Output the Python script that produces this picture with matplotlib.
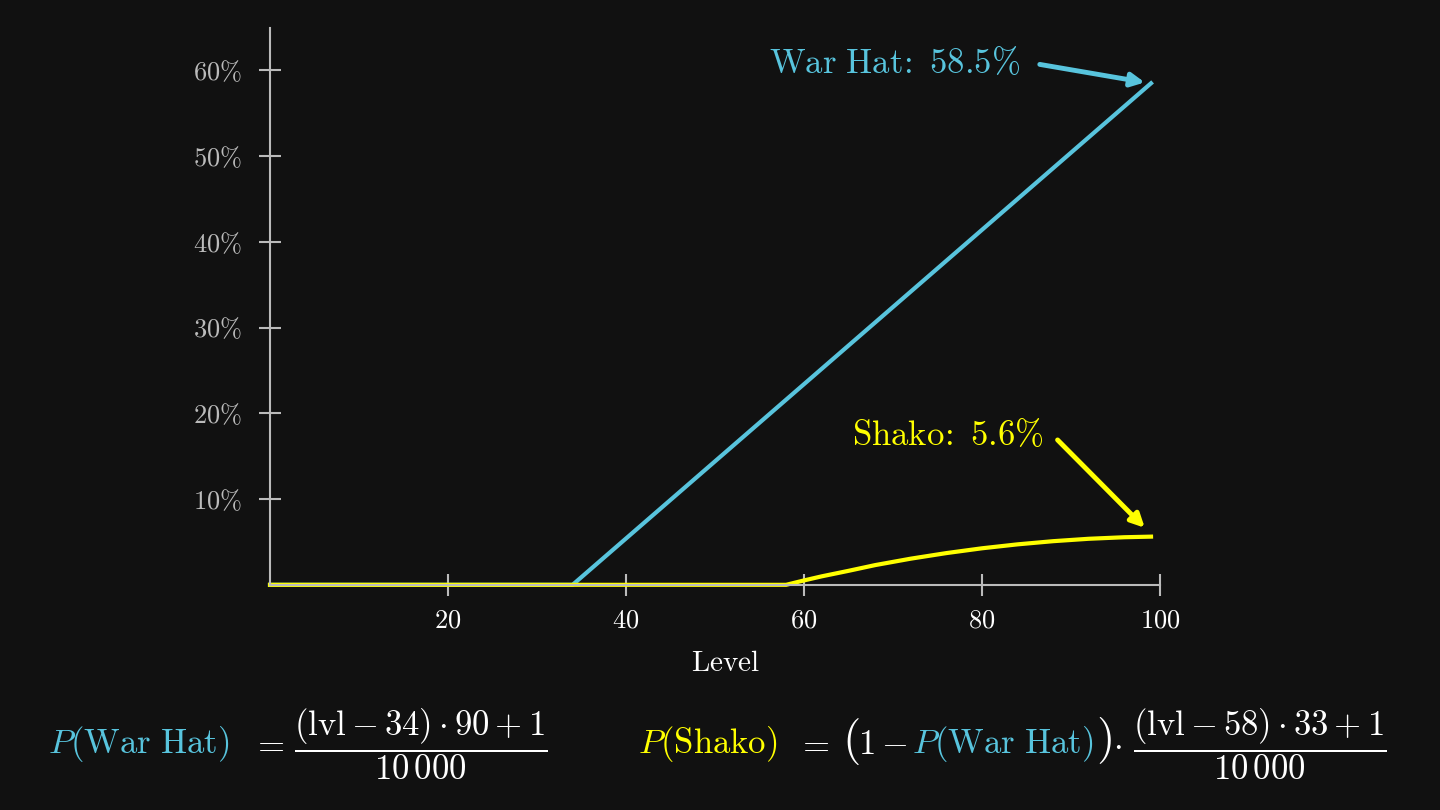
import matplotlib.pyplot as plt

plt.rcParams['mathtext.fontset'] = 'cm'

bg = '#111111'
blue = '#58c4dd'
yellow = '#ffff00'
axc = '#bbbbbb'

war_lvl = [0, 34, 99]
war_pct = [0, 0, 58.5]
shako_lvl = [0, 58, 60, 62, 65, 68, 72, 76, 80, 84, 88, 92, 96, 99]
shako_pct = [0, 0, 0.51, 0.99, 1.63, 2.30, 3.05, 3.70, 4.26, 4.72, 5.09, 5.37, 5.55, 5.62]
xticks = [20, 40, 60, 80, 100]
yticks = [10, 20, 30, 40, 50, 60]

fig = plt.figure(figsize=(14.4, 8.1), dpi=100, facecolor=bg)
ax = fig.add_axes([0.1875, 0.278, 0.618, 0.688])
ax.set_facecolor(bg)
ax.set_xlim(0, 100)
ax.set_ylim(0, 65)
for s in ['top', 'right']:
    ax.spines[s].set_visible(False)
for s in ['left', 'bottom']:
    ax.spines[s].set_color(axc)
    ax.spines[s].set_linewidth(1.5)
ax.set_xticks(xticks)
ax.set_xticklabels([r'$%d$' % t for t in xticks])
ax.set_yticks(yticks)
ax.set_yticklabels([r'$%d\%%$' % t for t in yticks])
ax.tick_params(direction='inout', length=16, width=1.5, color=axc, labelsize=19)
ax.tick_params(axis='x', colors=axc, labelcolor='white', pad=8)
ax.tick_params(axis='y', colors=axc, labelcolor=axc, pad=12)
ax.set_xlabel(r'$\mathrm{Level}$', color='white', fontsize=21, labelpad=12)
ax.xaxis.set_label_coords(0.512, -0.115)

ax.plot(war_lvl, war_pct, color=blue, lw=3, clip_on=False)
ax.plot(shako_lvl, shako_pct, color=yellow, lw=3, clip_on=False)

ax.text(84.3, 60.9, r'$\mathrm{War\ Hat\!:\ 58.5\%}$', color=blue, fontsize=25,
        ha='right', va='center')
ax.annotate('', xy=(98.3, 58.6), xytext=(86.5, 60.7),
            arrowprops=dict(arrowstyle='-|>', color=blue, lw=3.5, mutation_scale=20,
                            shrinkA=0, shrinkB=0))
ax.text(86.9, 17.5, r'$\mathrm{Shako\!:\ 5.6\%}$', color=yellow, fontsize=25,
        ha='right', va='center')
ax.annotate('', xy=(98.3, 6.65), xytext=(88.5, 16.9),
            arrowprops=dict(arrowstyle='-|>', color=yellow, lw=3.5, mutation_scale=20,
                            shrinkA=0, shrinkB=0))

fs = 25
fig.text(0.033, 0.082, r'$P\mathrm{(War\ Hat)}$', color=blue, fontsize=fs, va='center')
fig.text(0.174, 0.082, r'$=$', color='white', fontsize=fs, va='center')
fig.text(0.204, 0.082, r'$\dfrac{(\mathrm{lvl}-34)\cdot 90+1}{10\,000}$',
         color='white', fontsize=fs, va='center')
fig.text(0.443, 0.082, r'$P\mathrm{(Shako)}$', color=yellow, fontsize=fs, va='center')
fig.text(0.553, 0.082, r'$=$', color='white', fontsize=fs, va='center')
fig.text(0.585, 0.085, r'$\mathrm{(}$', color='white', fontsize=34, va='center')
fig.text(0.596, 0.082, r'$1-$', color='white', fontsize=fs, va='center')
fig.text(0.633, 0.082, r'$P\mathrm{(War\ Hat)}$', color=blue, fontsize=fs, va='center')
fig.text(0.761, 0.085, r'$\mathrm{)}$', color='white', fontsize=34, va='center')
fig.text(0.773, 0.082, r'$\cdot$', color='white', fontsize=fs, va='center')
fig.text(0.787, 0.082, r'$\dfrac{(\mathrm{lvl}-58)\cdot 33+1}{10\,000}$',
         color='white', fontsize=fs, va='center')

fig.savefig('out.png', dpi=100, facecolor=bg)
